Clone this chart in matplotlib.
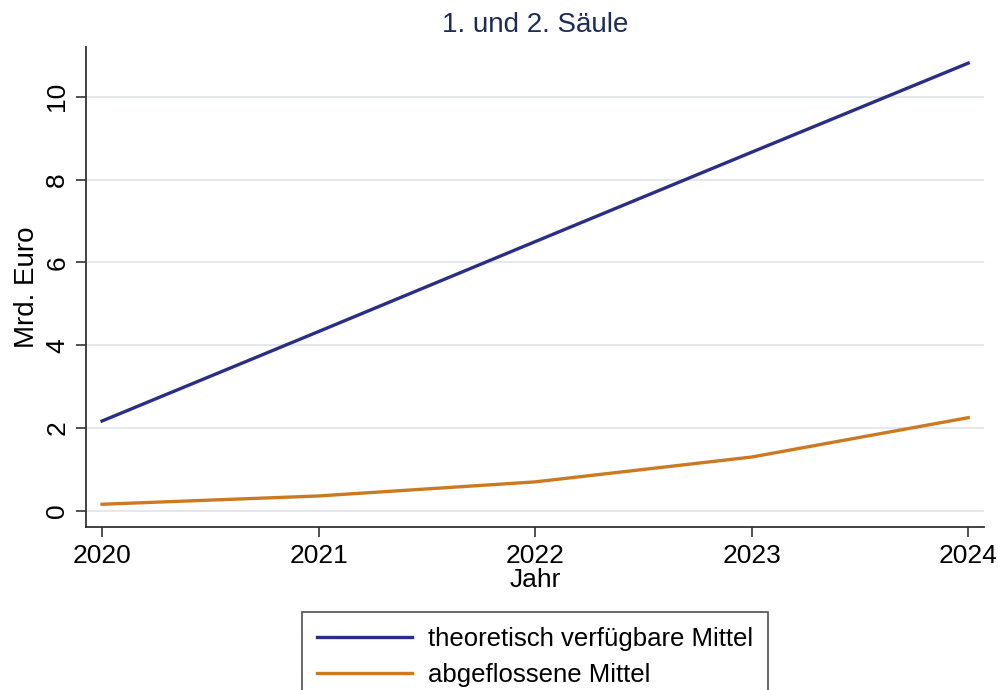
import matplotlib
matplotlib.use("Agg")
import matplotlib.pyplot as plt

plt.rcParams['font.family'] = ['Liberation Sans', 'DejaVu Sans']

jahre = [2020, 2021, 2022, 2023, 2024]
theoretisch = [2.17, 4.33, 6.50, 8.66, 10.81]
abgeflossen = [0.16, 0.36, 0.70, 1.30, 2.25]
y_ticks = [0, 2, 4, 6, 8, 10]

blau = '#2a2e86'
orange = '#cc7a22'

fig = plt.figure(figsize=(9.98, 6.9), dpi=100)
ax = fig.add_axes([0.0862, 0.2362, 0.9, 0.6957])

ax.plot(jahre, theoretisch, color=blau, lw=2.4, label='theoretisch verfügbare Mittel')
ax.plot(jahre, abgeflossen, color=orange, lw=2.4, label='abgeflossene Mittel')

ax.set_xlim(2019.926, 2024.074)
ax.set_ylim(-0.39, 11.2)
ax.set_xticks(jahre)
ax.set_yticks(y_ticks)
ax.set_yticklabels([str(t) for t in y_ticks], rotation=90, va='center')
ax.tick_params(axis='both', labelsize=19, length=7, width=1.2, color='#333333', pad=5)
ax.grid(axis='y', color='#e3e7ec', lw=1.3)
ax.set_axisbelow(True)
for s in ['top', 'right']:
    ax.spines[s].set_visible(False)
for s in ['left', 'bottom']:
    ax.spines[s].set_linewidth(1.3)
    ax.spines[s].set_color('#333333')

ax.set_xlabel('Jahr', fontsize=19, labelpad=0)
ax.set_ylabel('Mrd. Euro', fontsize=20, labelpad=4)
fig.text(535 / 998, 1 - 25 / 690, '1. und 2. Säule', ha='center', va='center',
         fontsize=20, color='#1e2d55')

leg = fig.legend(loc='upper center', bbox_to_anchor=(535 / 998, 1 - 612 / 690),
                 fontsize=18.5, frameon=True, fancybox=False, edgecolor='#222222',
                 handlelength=3.7, handletextpad=0.6, borderpad=0.6, labelspacing=0.45,
                 borderaxespad=0)
leg.get_frame().set_linewidth(1.2)

fig.savefig('out.png', dpi=100)
